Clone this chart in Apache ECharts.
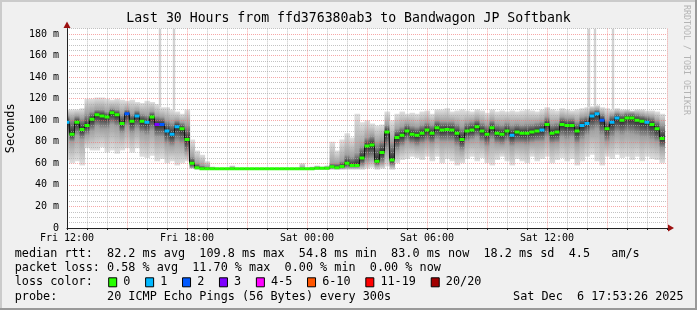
<!DOCTYPE html>
<html><head><meta charset="utf-8">
<script src="https://cdn.jsdelivr.net/npm/echarts/dist/echarts.min.js"></script>
<style>html,body{margin:0;padding:0;background:#f0f0f0}#c{width:697px;height:310px}</style>
</head><body><div id="c"></div>
<script>
// ---- data (hours since Fri 12:00, one sample per 15 min) ----
const tickLabels = {0:'Fri 12:00', 6:'Fri 18:00', 12:'Sat 00:00', 18:'Sat 06:00', 24:'Sat 12:00'};
const stepHours = 0.25;
const median = [
  98, 87, 98, 91.5, 95, 101, 105, 104, 103, 107,
  105, 97, 106, 99, 104, 99, 98, 103, 96, 96,
  90, 87, 94, 92, 82, 60, 56, 55, 55, 55,
  55, 55, 55, 55, 55, 55, 55, 55, 55, 55,
  55, 55, 55, 55, 55, 55, 55, 55, 55, 55,
  55.5, 55.5, 55.5, 56.8, 56, 57, 60, 58, 58, 65,
  76, 77, 62, 70, 89, 63, 84, 86, 90, 87,
  86, 88, 91, 88, 93, 91, 91.5, 91, 88, 82,
  90, 91, 94, 90, 87, 93, 88, 87, 90, 86,
  89, 88, 88, 89, 90, 91, 96, 88, 89, 96,
  95, 95, 90, 95, 97, 104, 106, 100, 92, 98,
  102, 100, 102, 102, 100, 99, 98, 96, 92, 83
];
const lossIdx = [
  1,0,0,0,0,0,0,0,0,0,
  0,0,2,0,1,0,1,0,3,2,
  1,1,1,0,0,0,0,0,0,0,
  0,0,0,0,0,0,0,0,0,0,
  0,0,0,0,0,0,0,0,0,0,
  0,0,0,0,0,0,0,0,0,0,
  0,0,0,0,0,0,0,0,0,0,
  0,0,0,0,0,0,0,0,0,0,
  0,0,0,0,0,0,0,0,0,1,
  0,0,0,0,0,1,0,0,0,0,
  0,0,0,1,1,1,1,2,0,1,
  1,0,0,0,0,0,1,0,0,0
];
const smokeLo = [
  63, 60, 62, 58, 74, 72, 72, 75, 70, 72,
  69, 72, 74, 70, 74, 66, 65, 67, 62, 64,
  60, 62, 58, 60, 62, 55, 54, 54, 54, 54,
  54, 54, 54, 54, 54, 54, 54, 54, 54, 54,
  54, 54, 54, 54, 54, 54, 54, 54, 54, 54,
  54, 54, 54, 54, 54, 54, 54, 54, 54, 54,
  55, 56, 54, 55, 57, 54, 60, 63, 64, 66,
  65, 63, 66, 62, 66, 60, 64, 62, 58, 60,
  64, 66, 62, 65, 60, 58, 63, 66, 62, 58,
  64, 62, 60, 66, 62, 64, 66, 60, 63, 65,
  62, 64, 58, 62, 66, 68, 62, 58, 66, 64,
  68, 65, 66, 63, 66, 62, 66, 64, 63, 60
];
const smokeHi = [
  110, 110, 110, 111, 120, 120, 121, 121, 120, 119,
  120, 119, 118, 119, 117, 116, 118, 117, 115, 112,
  112, 110, 108, 106, 110, 82, 72, 68, 62, 57,
  56, 56, 56, 58, 56, 56, 56, 56, 56, 56,
  56, 56, 56, 56, 56, 56, 56, 60, 56, 57,
  58, 57, 58, 80, 72, 82, 88, 84, 106, 98,
  100, 97, 95, 96, 108, 100, 106, 108, 106, 107,
  106, 108, 109, 106, 110, 110, 111, 108, 109, 110,
  109, 108, 110, 109, 107, 110, 108, 109, 108, 109,
  108, 109, 110, 109, 108, 110, 112, 110, 109, 111,
  110, 109, 110, 111, 112, 113, 114, 112, 111, 110,
  111, 110, 110, 109, 110, 110, 109, 109, 108, 106
];
const coreLo = [
  86, 80, 86, 82, 86, 90, 94, 92, 92, 96,
  94, 88, 94, 88, 92, 88, 86, 90, 84, 84,
  78, 76, 80, 78, 70, 56, 55, 54.5, 54.5, 54.5,
  54.5, 54.5, 54.5, 54.5, 54.5, 54.5, 54.5, 54.5, 54.5, 54.5,
  54.5, 54.5, 54.5, 54.5, 54.5, 54.5, 54.5, 54.5, 54.5, 54.5,
  54.5, 54.5, 54.5, 55, 55, 55, 56, 56, 56, 58,
  62, 64, 58, 60, 72, 58, 72, 76, 80, 78,
  76, 78, 80, 78, 82, 80, 80, 80, 76, 72,
  80, 82, 84, 80, 76, 82, 78, 77, 80, 76,
  78, 78, 77, 79, 80, 80, 84, 78, 79, 84,
  82, 84, 78, 82, 86, 90, 92, 86, 80, 84,
  88, 86, 88, 87, 86, 84, 84, 82, 80, 74
];
const coreHi = [
  104, 102, 104, 102, 106, 108, 110, 110, 108, 111,
  110, 106, 110, 106, 109, 106, 105, 108, 104, 103,
  100, 98, 100, 98, 96, 66, 60, 58, 57, 56,
  56, 56, 56, 56, 56, 56, 56, 56, 56, 56,
  56, 56, 56, 56, 56, 56, 56, 56, 56, 56,
  56.5, 56.5, 56.5, 60, 60, 62, 68, 66, 70, 76,
  84, 86, 80, 82, 96, 80, 92, 94, 97, 95,
  94, 96, 98, 96, 100, 99, 99, 99, 97, 94,
  98, 99, 101, 98, 96, 100, 97, 96, 98, 96,
  97, 96, 97, 97, 98, 99, 103, 97, 98, 103,
  102, 102, 99, 103, 104, 109, 110, 106, 101, 105,
  107, 106, 107, 107, 106, 105, 104, 103, 100, 96
];
const spikeHours = [4.65, 5.35, 26.1, 26.4, 27.3];
const spikeBase = [112, 108, 112, 112, 110];
const lossColors = ['#26ff00','#00b8ff','#0059ff','#7e00ff','#ff00ff','#ff5500','#ff0000','#a10000'];
const lossLabels = ['0','1','2','3','4-5','6-10','11-19','20/20'];
const statLines = [
  'median rtt:  82.2 ms avg  109.8 ms max  54.8 ms min  83.0 ms now  18.2 ms sd  4.5   am/s',
  'packet loss: 0.58 % avg  11.70 % max  0.00 % min  0.00 % now',
  'loss color:',
  'probe:       20 ICMP Echo Pings (56 Bytes) every 300s'
];
const stampText = 'Sat Dec  6 17:53:26 2025';
const titleText = 'Last 30 Hours from ffd376380ab3 to Bandwagon JP Softbank';

// ---- chart ----
const MONO = 'DejaVu Sans Mono';
const chart = echarts.init(document.getElementById('c'));
const smokeData = median.map((m, i) => [i * stepHours, smokeLo[i], smokeHi[i], coreLo[i], coreHi[i], m]);
const medData = median.map((m, i) => [i * stepHours, m, lossIdx[i]]);
const lineData = median.map((m, i) => [i * stepHours, m]);
const spikeData = spikeHours.map((h, i) => [h, spikeBase[i], 185]);

const graphics = [
  {type:'rect', shape:{x:0,y:0,width:697,height:2}, style:{fill:'#cbcbcb'}},
  {type:'rect', shape:{x:0,y:0,width:2,height:310}, style:{fill:'#cbcbcb'}},
  {type:'rect', shape:{x:0,y:308,width:697,height:2}, style:{fill:'#999999'}},
  {type:'rect', shape:{x:695,y:0,width:2,height:310}, style:{fill:'#999999'}},
  {type:'polygon', shape:{points:[[668,224.5],[674,228],[668,231.5]]}, style:{fill:'#9c1010'}, z:100},
  {type:'polygon', shape:{points:[[63.5,28],[67,21.5],[70.5,28]]}, style:{fill:'#9c1010'}, z:100},
  {type:'text', x:348.5, y:18.5, style:{text:titleText, font:'13.2px "'+MONO+'"', fill:'#000', align:'center', verticalAlign:'middle'}},
  {type:'text', x:686.5, y:60, rotation:-Math.PI/2, style:{text:'RRDTOOL / TOBI OETIKER', font:'8.3px "'+MONO+'"', fill:'#b4b4b4', align:'center', verticalAlign:'middle'}}
];
const lineY = [254.3, 268.3, 282.3, 296.7];
statLines.forEach((t, k) => graphics.push({type:'text', x:14.7, y:lineY[k], style:{text:t, font:'11.8px "'+MONO+'"', fill:'#000', align:'left', verticalAlign:'middle'}}));
graphics.push({type:'text', x:14.7 + 70*7.12, y:lineY[3], style:{text:stampText, font:'11.8px "'+MONO+'"', fill:'#000', align:'left', verticalAlign:'middle'}});
let bx = 108.7;
lossLabels.forEach((lab, k) => {
  graphics.push({type:'rect', shape:{x:bx, y:lineY[2]-4.5, width:8, height:9}, style:{fill:lossColors[k], stroke:'#000', lineWidth:1}});
  graphics.push({type:'text', x:bx+14.6, y:lineY[2], style:{text:lab, font:'11.8px "'+MONO+'"', fill:'#000', align:'left', verticalAlign:'middle'}});
  bx += 14.6 + lab.length*7.12 + 15.2;
});

const minorC = 'rgba(170,170,170,0.7)', majorC = 'rgba(240,110,110,0.6)';
const option = {
  animation: false,
  backgroundColor: '#f0f0f0',
  grid: {left:67, top:28.6, width:600, height:199.4, show:true, backgroundColor:'#ffffff', borderWidth:0,
         containLabel:false, outerBoundsMode:'none'},
  xAxis: {
    type:'value', min:0, max:30, interval:1, z:2,
    axisLine:{show:true, lineStyle:{color:'#222', width:1}},
    axisTick:{show:true, length:2, lineStyle:{color:'#222'}},
    axisLabel:{fontFamily:MONO, fontSize:10, color:'#000', margin:5, formatter:v => tickLabels[v] || ''},
    splitLine:{show:true, lineStyle:{color:[majorC, minorC, minorC], type:[1,1], width:1}}
  },
  yAxis: {
    type:'value', min:0, max:185, interval:5, z:2,
    name:'Seconds', nameLocation:'middle', nameGap:50, nameRotate:90,
    nameTextStyle:{fontFamily:MONO, fontSize:11.8, color:'#000'},
    axisLine:{show:true, lineStyle:{color:'#222', width:1}},
    axisTick:{show:false},
    axisLabel:{fontFamily:MONO, fontSize:10, color:'#000', margin:8, formatter:v => (v % 20 === 0) ? (v === 0 ? '0' : v + ' m') : ''},
    splitLine:{show:true, lineStyle:{color:[majorC, minorC, minorC, minorC], type:[1,1], width:1}}
  },
  graphic: graphics,
  series: [
    {
      type:'custom', z:1, clip:true, data:spikeData, encode:{x:0, y:[1,2]},
      renderItem:(p, api) => {
        const a = api.coord([api.value(0), api.value(2)]);
        const b = api.coord([api.value(0), api.value(1)]);
        return {type:'rect', shape:{x:a[0]-1.2, y:a[1], width:2.4, height:b[1]-a[1]}, style:{fill:'#d2d2d2'}};
      }
    },
    {
      type:'custom', z:1, clip:true, data:smokeData, encode:{x:0, y:[1,2]},
      renderItem:(p, api) => {
        const t = api.value(0), lo = api.value(1), hi = api.value(2), cl = api.value(3), ch = api.value(4), md = api.value(5);
        const a = api.coord([t - stepHours/2, hi]);
        const b = api.coord([t + stepHours/2, lo]);
        const span = (hi - lo) || 1;
        const f = v => Math.min(1, Math.max(0, (hi - v) / span));
        const s1 = f(ch), s2 = Math.max(s1, f(md)), s3 = Math.max(s2, f(cl));
        const grad = new echarts.graphic.LinearGradient(0, 0, 0, 1, [
          {offset:0, color:'#e0e0e0'},
          {offset:s1, color:'#a0a0a0'},
          {offset:s2, color:'#282828'},
          {offset:s3, color:'#a0a0a0'},
          {offset:1, color:'#e0e0e0'}
        ]);
        return {type:'rect', shape:{x:a[0], y:a[1], width:b[0]-a[0]+0.6, height:Math.max(b[1]-a[1], 1)}, style:{fill:grad}};
      }
    },
    {
      type:'line', z:3, data:lineData, step:'middle', symbol:'none',
      lineStyle:{color:'#141414', width:1}
    },
    {
      type:'custom', z:4, clip:true, data:medData, encode:{x:0, y:1},
      renderItem:(p, api) => {
        const t = api.value(0), m = api.value(1);
        const a = api.coord([t - stepHours/2, m]);
        const b = api.coord([t + stepHours/2, m]);
        return {type:'rect', shape:{x:a[0], y:a[1]-1.5, width:b[0]-a[0], height:3}, style:{fill:lossColors[api.value(2)]}};
      }
    }
  ]
};
chart.setOption(option);
</script>
</body></html>
